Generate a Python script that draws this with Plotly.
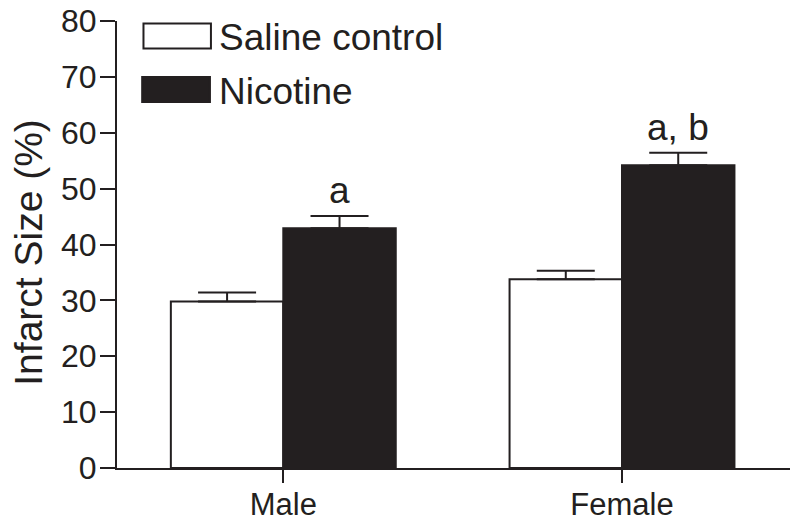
import plotly.graph_objects as go

categories = ["Male", "Female"]
series_names = ["Saline control", "Nicotine"]
saline_values = [29.8, 33.8]
saline_errors = [1.6, 1.5]
nicotine_values = [42.9, 54.2]
nicotine_errors = [2.2, 2.2]
significance_labels = ["a", "a, b"]
y_ticks = [0, 10, 20, 30, 40, 50, 60, 70, 80]

INK = "#231f20"
FONT = "Arial, Liberation Sans, sans-serif"

fig = go.Figure()
fig.add_trace(go.Bar(
    x=categories, y=saline_values, name=series_names[0],
    marker=dict(color="white", line=dict(color=INK, width=2)),
    error_y=dict(type="data", array=saline_errors, symmetric=False, arrayminus=[0, 0],
                 color=INK, thickness=2, width=29),
))
fig.add_trace(go.Bar(
    x=categories, y=nicotine_values, name=series_names[1],
    marker=dict(color=INK, line=dict(color=INK, width=2)),
    error_y=dict(type="data", array=nicotine_errors, symmetric=False, arrayminus=[0, 0],
                 color=INK, thickness=2, width=29),
))

# page body has an 8px margin; figure sized to fit the window exactly
OFF = 8
W, H = 792, 517
L, R, T, B = 116.5 - OFF, 10, 20.7 - OFF, H - (468 - OFF)
pw = W - L - R
ph = H - T - B

def px(x):  # page pixel -> paper
    return (x - OFF - L) / pw

def py(y):
    return (H - B - (y - OFF)) / ph

# manual legend
shapes = [
    dict(type="rect", xref="paper", yref="paper", x0=px(143), x1=px(210.5), y0=py(48.3), y1=py(23.3),
         fillcolor="white", line=dict(color=INK, width=2)),
    dict(type="rect", xref="paper", yref="paper", x0=px(141.7), x1=px(209.5), y0=py(101.7), y1=py(76.7),
         fillcolor=INK, line=dict(color=INK, width=2)),
]
annotations = [
    dict(x=px(217), y=py(37), xref="paper", yref="paper", text=series_names[0], showarrow=False,
         xanchor="left", yanchor="middle", font=dict(size=37, color=INK, family=FONT)),
    dict(x=px(217), y=py(91), xref="paper", yref="paper", text=series_names[1], showarrow=False,
         xanchor="left", yanchor="middle", font=dict(size=37, color=INK, family=FONT)),
    dict(x=px(28), y=py(252), xref="paper", yref="paper", text="Infarct Size (%)", showarrow=False,
         textangle=-90, xanchor="center", yanchor="middle", borderpad=0,
         font=dict(size=39, color=INK, family=FONT)),
]
for i, lab in enumerate(significance_labels):
    annotations.append(dict(
        x=i + 0.166, y=nicotine_values[i] + nicotine_errors[i], xref="x", yref="y",
        text=lab, showarrow=False, xanchor="center", yanchor="bottom", yshift=3,
        font=dict(size=37, color=INK, family=FONT)))

fig.update_layout(
    width=W, height=H,
    margin=dict(l=L, r=R, t=T, b=B, autoexpand=False),
    paper_bgcolor="white", plot_bgcolor="white",
    barmode="group", bargap=0.336, bargroupgap=0,
    showlegend=False,
    font=dict(family=FONT, color=INK, size=31),
    shapes=shapes, annotations=annotations,
)
fig.update_xaxes(
    range=[-0.491, 1.496], showline=True, linecolor=INK, linewidth=2,
    ticks="outside", ticklen=13, tickwidth=2, tickcolor=INK, automargin=False,
    ticklabelstandoff=-5, ticklabeloverflow="allow",
    tickfont=dict(size=31, family=FONT, color=INK), showgrid=False, zeroline=False,
)
fig.update_yaxes(
    range=[0, 80], tickvals=y_ticks, showline=True, linecolor=INK, linewidth=2,
    ticks="outside", ticklen=15, tickwidth=2, tickcolor=INK, automargin=False,
    ticklabelstandoff=-3, ticklabeloverflow="allow",
    tickfont=dict(size=32, family=FONT, color=INK), showgrid=False, zeroline=False,
)

fig.write_html("out.html")
